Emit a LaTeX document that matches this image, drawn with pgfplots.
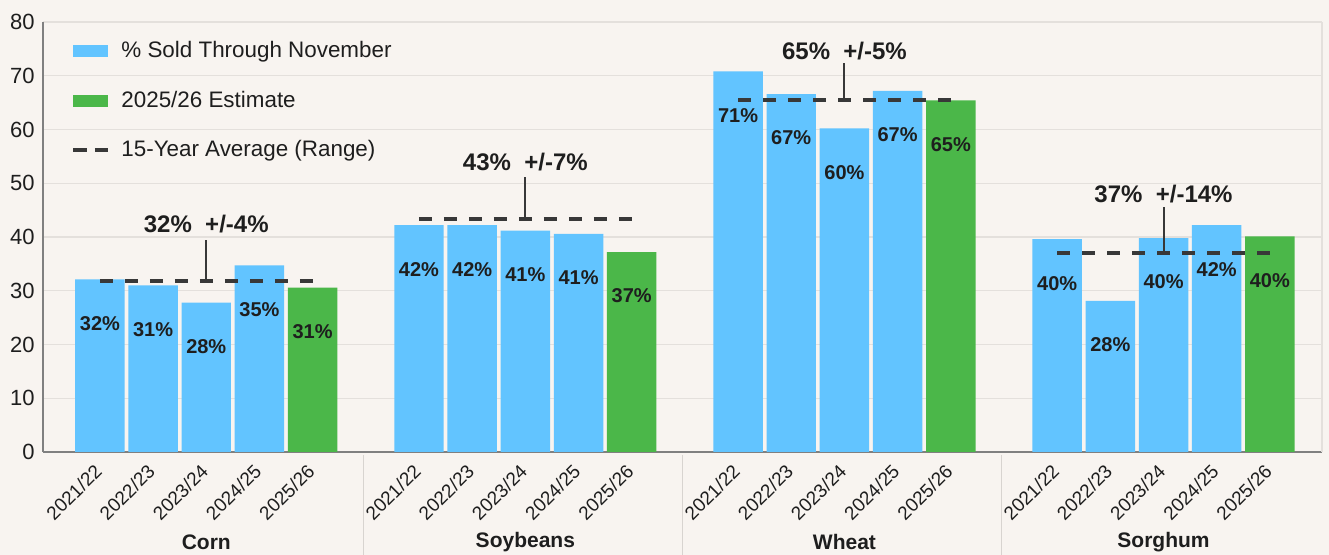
\documentclass[border=0pt]{standalone}
\usepackage{fontspec}
\setmainfont{Liberation Sans}
\usepackage{pgfplots}
\pgfplotsset{compat=1.18}

\definecolor{bg}{HTML}{F8F4F0}
\definecolor{barblue}{HTML}{62C4FF}
\definecolor{bargreen}{HTML}{4BB749}
\definecolor{gridc}{HTML}{E4E0DC}
\definecolor{sepc}{HTML}{D8D4D0}
\definecolor{axisc}{HTML}{808080}
\definecolor{dashc}{HTML}{383838}
\definecolor{txt}{HTML}{1E1E1E}

\begin{document}
\begin{tikzpicture}
\fill[bg] (-21.5pt,-51.5pt) rectangle (643pt,226pt);
\begin{axis}[
  scale only axis, width=639.5pt, height=215pt,
  at={(0pt,0pt)}, anchor=south west,
  xmin=-1.07, xmax=22.98, ymin=0, ymax=80,
  ytick={0,10,...,80},
  xtick={0,1,2,3,4,6,7,8,9,10,12,13,14,15,16,18,19,20,21,22},
  xticklabels={2021/22,2022/23,2023/24,2024/25,2025/26,
               2021/22,2022/23,2023/24,2024/25,2025/26,
               2021/22,2022/23,2023/24,2024/25,2025/26,
               2021/22,2022/23,2023/24,2024/25,2025/26},
  ymajorgrids, grid style={gridc, line width=0.7pt},
  axis x line*=bottom, axis y line*=left,
  axis line style={axisc, line width=1pt, -},
  major tick length=0pt,
  tick style={draw=none},
  /pgf/number format/assume math mode=true,
  yticklabel style={font=\fontsize{11}{13}\selectfont, text=txt, xshift=-0.7pt},
  xticklabel style={font=\fontsize{9.5}{11}\selectfont, text=txt, xshift=0pt, yshift=-7.2pt, rotate=45, anchor=east, inner sep=1pt},
  clip=false,
  legend style={at={(0,1)}, anchor=north west, draw=none, fill=none, inner sep=0pt,
    xshift=14pt, yshift=-7.5pt, row sep=11.2pt, font=\fontsize{11.2}{13}\selectfont, text=txt,
    /tikz/every odd column/.append style={column sep=3.5pt}},
  legend cell align=left,
]
% Blue bars: % sold through November (historic)
\addplot[ybar, bar width=0.93, bar shift=0pt, fill=barblue, draw=none,
  point meta=y,
  nodes near coords={\pgfmathprintnumber[fixed,precision=0]{\pgfplotspointmeta}\%},
  nodes near coords align={anchor=center},
  every node near coord/.append style={anchor=center, yshift=-22pt, font=\bfseries\fontsize{10}{12}\selectfont, text=txt},
  legend image code/.code={\fill[barblue] (0pt,-3pt) rectangle (17.5pt,3pt);}]
coordinates {
  (0,32.1) (1,31.0) (2,27.8) (3,34.7)
  (6,42.2) (7,42.2) (8,41.2) (9,40.6)
  (12,70.8) (13,66.6) (14,60.2) (15,67.2)
  (18,39.6) (19,28.1) (20,39.8) (21,42.2)
};
\addlegendentry{\% Sold Through November}
% Green bars: 2025/26 estimate
\addplot[ybar, bar width=0.93, bar shift=0pt, fill=bargreen, draw=none,
  point meta=y,
  nodes near coords={\pgfmathprintnumber[fixed,precision=0]{\pgfplotspointmeta}\%},
  nodes near coords align={anchor=center},
  every node near coord/.append style={anchor=center, yshift=-22pt, font=\bfseries\fontsize{10}{12}\selectfont, text=txt},
  legend image code/.code={\fill[bargreen] (0pt,-3pt) rectangle (17.5pt,3pt);}]
coordinates {
  (4,30.6) (10,37.2) (16,65.4) (22,40.1)
};
\addlegendentry{2025/26 Estimate}
% 15-year averages
\addplot[dashc, line width=2pt, dash pattern=on 6.5pt off 6pt,
  legend image code/.code={\draw[dashc, line width=2pt, dash pattern=on 6.75pt off 4pt] (0pt,0pt) -- (17.5pt,0pt);}]
  coordinates {(0,31.9) (4,31.9)};
\addlegendentry{15-Year Average (Range)}
\addplot[dashc, line width=2pt, dash pattern=on 6.5pt off 6pt, forget plot] coordinates {(6,43.3) (10,43.3)};
\addplot[dashc, line width=2pt, dash pattern=on 6.5pt off 6pt, forget plot] coordinates {(12,65.4) (16,65.4)};
\addplot[dashc, line width=2pt, dash pattern=on 6.5pt off 6pt, forget plot] coordinates {(18,37.0) (22,37.0)};
% annotation stems
\addplot[dashc, line width=1pt, forget plot] coordinates {(2,31.9) (2,39.4)};
\addplot[dashc, line width=1pt, forget plot] coordinates {(8,43.3) (8,51.1)};
\addplot[dashc, line width=1pt, forget plot] coordinates {(14,65.4) (14,72.4)};
\addplot[dashc, line width=1pt, forget plot] coordinates {(20,37.0) (20,45.6)};
% annotation labels
\node[font=\bfseries\fontsize{12}{14}\selectfont, text=txt] at (axis cs:2,42.4) {32\%~~+/-4\%};
\node[font=\bfseries\fontsize{12}{14}\selectfont, text=txt] at (axis cs:8,53.9) {43\%~~+/-7\%};
\node[font=\bfseries\fontsize{12}{14}\selectfont, text=txt] at (axis cs:14,74.6) {65\%~~+/-5\%};
\node[font=\bfseries\fontsize{12}{14}\selectfont, text=txt] at (axis cs:20,48.0) {37\%~~+/-14\%};
% right frame line
\draw[gridc, line width=0.7pt] (rel axis cs:1,0) -- (rel axis cs:1,1);
% group separators
\draw[sepc, line width=0.6pt] (axis cs:4.95,0) ++(0pt,-1.5pt) -- ++(0pt,-50pt);
\draw[sepc, line width=0.6pt] (axis cs:10.95,0) ++(0pt,-1.5pt) -- ++(0pt,-50pt);
\draw[sepc, line width=0.6pt] (axis cs:16.95,0) ++(0pt,-1.5pt) -- ++(0pt,-50pt);
% group names
\node[font=\bfseries\fontsize{10.5}{12}\selectfont, text=txt, yshift=-45pt] at (axis cs:2,0) {Corn};
\node[font=\bfseries\fontsize{10.5}{12}\selectfont, text=txt, yshift=-45pt] at (axis cs:8,0) {Soybeans};
\node[font=\bfseries\fontsize{10.5}{12}\selectfont, text=txt, yshift=-45pt] at (axis cs:14,0) {Wheat};
\node[font=\bfseries\fontsize{10.5}{12}\selectfont, text=txt, yshift=-45pt] at (axis cs:20,0) {Sorghum};
\end{axis}
\pgfresetboundingbox
\path (-21.5pt,-51.5pt) rectangle (643pt,226pt);
\end{tikzpicture}
\end{document}
